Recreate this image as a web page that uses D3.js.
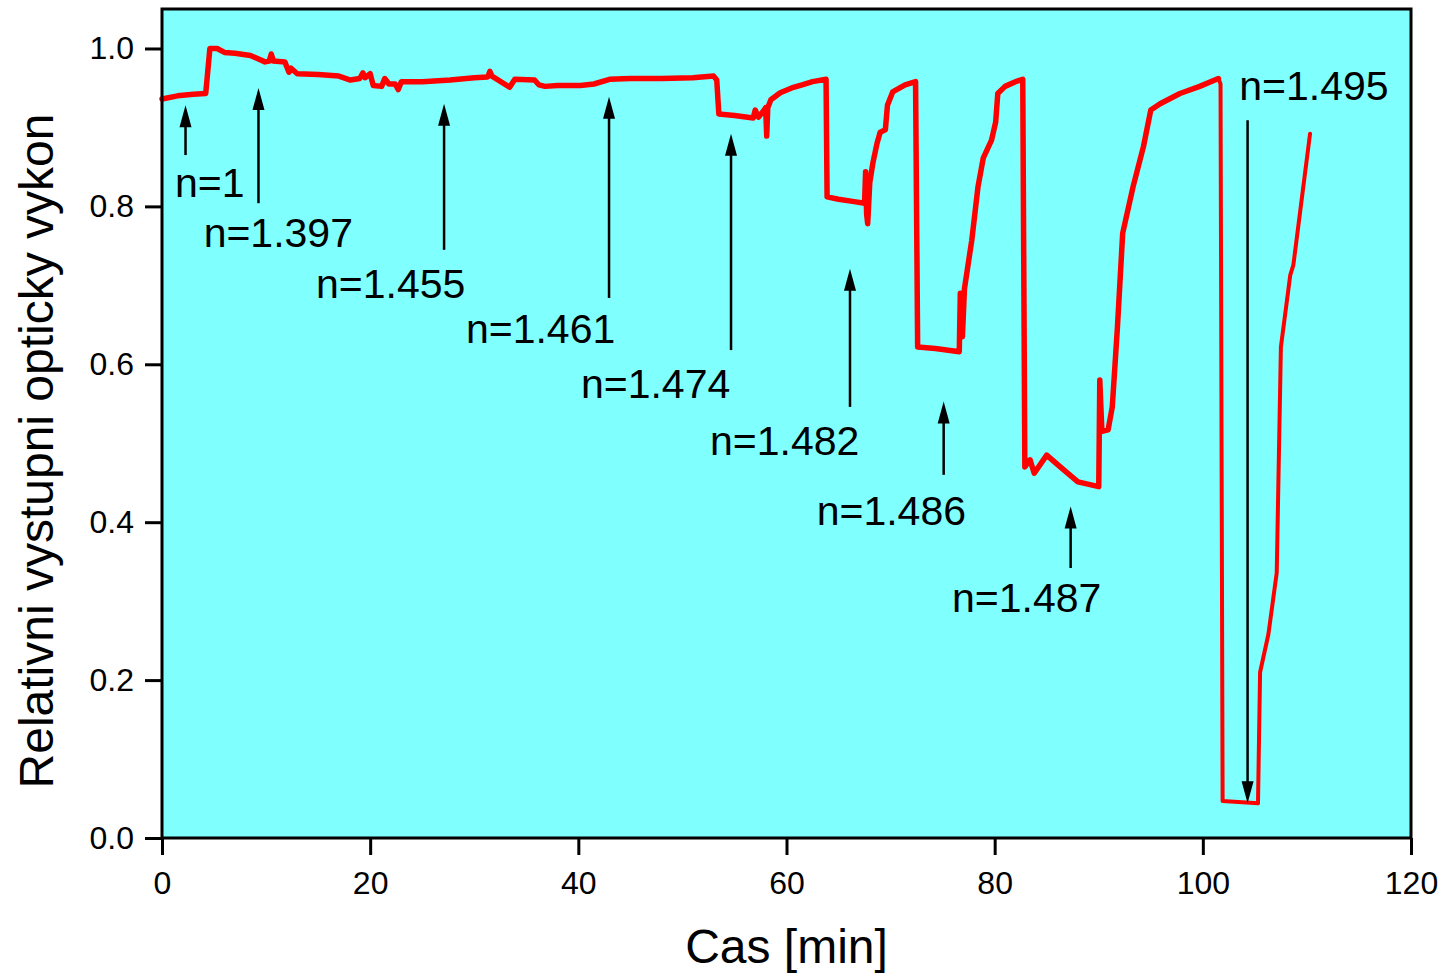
<!DOCTYPE html>
<html>
<head>
<meta charset="utf-8">
<script src="https://cdn.jsdelivr.net/npm/d3@7"></script>
<style>
  html, body { margin: 0; padding: 0; background: #fff; }
  svg { display: block; font-family: "Liberation Sans", Arial, sans-serif; }
</style>
</head>
<body>
<div id="chart"></div>
<script>
// measured series, thick part (0 - 101.5 min)
const time1 = [0, 1.5, 3.0, 4.2, 4.6, 5.3, 6.0, 7.0, 8.5, 9.9, 10.3, 10.5, 10.7, 11.8, 12.2, 12.4, 13.0, 15, 17, 18.1,
  19, 19.3, 19.5, 20.0, 20.3, 21.1, 21.4, 21.8, 22.4, 22.7, 23.0, 25, 27.7, 30, 31.3, 31.5, 31.7, 33.4, 33.9, 35.8,
  36.2, 36.8, 38, 40.2, 41.5, 43, 45, 48, 51, 53.0, 53.3, 53.5, 55, 56.8, 57.0, 57.3, 57.8, 58.0, 58.1, 58.2,
  58.5, 59.4, 60.5, 61.5, 62.5, 63.8, 63.9, 65, 66.5, 67.5, 67.6, 67.7, 67.8, 68.0, 68.3, 68.7, 69.0, 69.5, 69.7, 70.2,
  71.4, 72.4, 72.6, 74.3, 76.6, 76.7, 76.9, 77.1, 77.8, 78.4, 78.9, 79.7, 80.1, 80.3, 81.0, 82.0, 82.7, 82.9, 83.4, 83.8,
  85.0, 86.3, 88.0, 90.0, 90.1, 90.3, 90.9, 91.3, 91.8, 92.3, 93.3, 94.3, 95.0, 95.9, 97.8, 99.7, 101.5];
const power1 = [0.936, 0.940, 0.942, 0.943, 1.0, 1.0, 0.995, 0.994, 0.991, 0.983, 0.984, 0.993, 0.984, 0.983, 0.970, 0.975, 0.968, 0.967, 0.965, 0.960,
  0.962, 0.969, 0.963, 0.968, 0.953, 0.952, 0.962, 0.955, 0.955, 0.948, 0.958, 0.958, 0.960, 0.963, 0.964, 0.971, 0.965, 0.951, 0.961, 0.960,
  0.954, 0.952, 0.953, 0.953, 0.955, 0.961, 0.962, 0.962, 0.963, 0.965, 0.960, 0.917, 0.915, 0.912, 0.922, 0.913, 0.921, 0.925, 0.889, 0.925,
  0.935, 0.944, 0.950, 0.954, 0.958, 0.961, 0.812, 0.809, 0.806, 0.804, 0.844, 0.790, 0.778, 0.830, 0.855, 0.880, 0.894, 0.897, 0.928, 0.945,
  0.954, 0.958, 0.622, 0.620, 0.616, 0.690, 0.635, 0.696, 0.757, 0.825, 0.861, 0.884, 0.907, 0.943, 0.952, 0.958, 0.961, 0.470, 0.479, 0.462,
  0.485, 0.470, 0.451, 0.445, 0.580, 0.515, 0.517, 0.546, 0.648, 0.766, 0.825, 0.876, 0.922, 0.930, 0.943, 0.952, 0.962];

// thin part (101.5 min - end)
const time2 = [101.5, 101.7, 101.9, 105.3, 105.5, 106.3, 107.1, 107.5, 108.4, 108.7, 110.3];
const power2 = [0.962, 0.955, 0.047, 0.044, 0.21, 0.258, 0.336, 0.622, 0.713, 0.726, 0.892];

// annotations (data units): label, arrow x, arrow tail y, arrow tip y, label x, label baseline y
const noteLabels = ["n=1", "n=1.397", "n=1.455", "n=1.461", "n=1.474", "n=1.482", "n=1.486", "n=1.487", "n=1.495"];
const noteArrowX = [2.26, 9.27, 27.1, 42.95, 54.67, 66.1, 75.1, 87.3, 104.3];
const noteTailY = [0.865, 0.804, 0.745, 0.684, 0.618, 0.546, 0.460, 0.342, 0.909];
const noteTipY = [0.928, 0.950, 0.930, 0.939, 0.892, 0.721, 0.553, 0.420, 0.044];
const noteLabelX = [1.25, 4.0, 14.8, 29.2, 40.25, 52.65, 62.9, 75.9, 103.5];
const noteLabelY = [0.812, 0.749, 0.684, 0.627, 0.557, 0.485, 0.396, 0.286, 0.935];

const xTicks = [0, 20, 40, 60, 80, 100, 120];
const yTicks = [0.0, 0.2, 0.4, 0.6, 0.8, 1.0];

const W = 1445, H = 976;
const margin = { left: 162, right: 34, top: 9, bottom: 138 };

const svg = d3.select("#chart").append("svg")
  .attr("width", W)
  .attr("height", H);

const x = d3.scaleLinear().domain([0, 120]).range([margin.left, W - margin.right]);
const y = d3.scaleLinear().domain([0, 1.05]).range([H - margin.bottom, margin.top]);

// plot background
svg.append("rect")
  .attr("x", x(0)).attr("y", y(1.05))
  .attr("width", x(120) - x(0))
  .attr("height", y(0) - y(1.05))
  .attr("fill", "#80ffff");

const line = d3.line().x(d => x(d[0])).y(d => y(d[1]));

svg.append("path")
  .datum(time1.map((t, i) => [t, power1[i]]))
  .attr("d", line)
  .attr("fill", "none")
  .attr("stroke", "#ff0000")
  .attr("stroke-width", 5.5)
  .attr("stroke-linejoin", "round")
  .attr("stroke-linecap", "round");

svg.append("path")
  .datum(time2.map((t, i) => [t, power2[i]]))
  .attr("d", line)
  .attr("fill", "none")
  .attr("stroke", "#ff0000")
  .attr("stroke-width", 4)
  .attr("stroke-linejoin", "round")
  .attr("stroke-linecap", "round");

// arrows + labels
const notes = noteLabels.map((l, i) => ({
  label: l, ax: noteArrowX[i], y0: noteTailY[i], y1: noteTipY[i], lx: noteLabelX[i], ly: noteLabelY[i]
}));

svg.selectAll(".arrow")
  .data(notes)
  .enter()
  .append("line")
  .attr("class", "arrow")
  .attr("x1", d => x(d.ax)).attr("x2", d => x(d.ax))
  .attr("y1", d => y(d.y0))
  .attr("y2", d => y(d.y1) + (d.y1 > d.y0 ? 20 : -20))
  .attr("stroke", "#000")
  .attr("stroke-width", 2.5);

svg.selectAll(".head")
  .data(notes)
  .enter()
  .append("path")
  .attr("class", "head")
  .attr("d", d => {
    const tx = x(d.ax), ty = y(d.y1);
    const s = d.y1 > d.y0 ? 1 : -1; // up or down
    return `M${tx},${ty} L${tx - 6},${ty + s * 22} L${tx + 6},${ty + s * 22} Z`;
  })
  .attr("fill", "#000");

svg.selectAll(".note")
  .data(notes)
  .enter()
  .append("text")
  .attr("class", "note")
  .attr("x", d => x(d.lx))
  .attr("y", d => y(d.ly))
  .attr("font-size", 41)
  .attr("fill", "#000")
  .text(d => d.label);

// frame
svg.append("rect")
  .attr("x", x(0)).attr("y", y(1.05))
  .attr("width", x(120) - x(0))
  .attr("height", y(0) - y(1.05))
  .attr("fill", "none")
  .attr("stroke", "#000")
  .attr("stroke-width", 3);

// x axis
const xAxisG = svg.append("g").attr("transform", `translate(0,${y(0)})`);
xAxisG.call(d3.axisBottom(x).tickValues(d3.range(10, 120, 20)).tickSize(10).tickFormat(""));
xAxisG.call(d3.axisBottom(x).tickValues(xTicks).tickSize(17).tickPadding(16).tickFormat(d3.format("d")));
xAxisG.selectAll(".domain").remove();
xAxisG.selectAll("line").attr("stroke", "#000").attr("stroke-width", 3);
xAxisG.selectAll("text").attr("font-size", 32).attr("font-family", "Liberation Sans, Arial, sans-serif").attr("fill", "#000");

// y axis
const yAxisG = svg.append("g").attr("transform", `translate(${x(0)},0)`);
yAxisG.call(d3.axisLeft(y).tickValues(d3.range(0.1, 1.05, 0.2)).tickSize(9).tickFormat(""));
yAxisG.call(d3.axisLeft(y).tickValues(yTicks).tickSize(17).tickPadding(11).tickFormat(d3.format(".1f")));
yAxisG.selectAll(".domain").remove();
yAxisG.selectAll("line").attr("stroke", "#000").attr("stroke-width", 3);
yAxisG.selectAll("text").attr("font-size", 32).attr("font-family", "Liberation Sans, Arial, sans-serif").attr("fill", "#000");

// axis titles
svg.append("text")
  .attr("x", (x(0) + x(120)) / 2)
  .attr("y", 963)
  .attr("text-anchor", "middle")
  .attr("font-size", 48)
  .text("Cas [min]");

svg.append("text")
  .attr("transform", "translate(53,451) rotate(-90)")
  .attr("text-anchor", "middle")
  .attr("font-size", 48)
  .text("Relativni vystupni opticky vykon");
</script>
</body>
</html>
